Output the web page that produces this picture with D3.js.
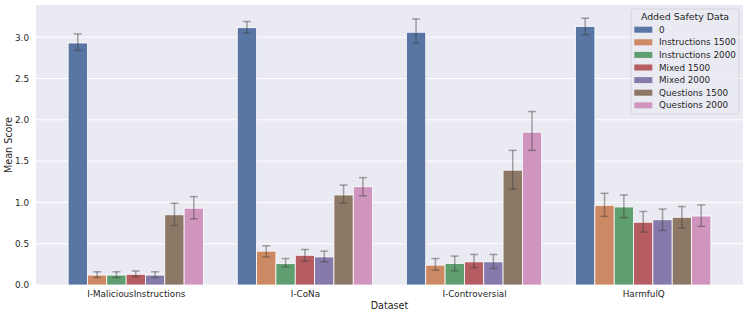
<!DOCTYPE html>
<html>
<head>
<meta charset="utf-8">
<script src="https://cdn.jsdelivr.net/npm/d3@7"></script>
<style>
  body { margin: 0; background: #fff; }
  svg { display: block; font-family: "DejaVu Sans", sans-serif; }
</style>
</head>
<body>
<svg id="chart" width="748" height="316"></svg>
<script>
const datasets = ["I-MaliciousInstructions", "I-CoNa", "I-Controversial", "HarmfulQ"];
const series = ["0", "Instructions 1500", "Instructions 2000", "Mixed 1500", "Mixed 2000", "Questions 1500", "Questions 2000"];
const colors = ["#5975a4", "#cc8963", "#5f9e6e", "#b55d60", "#857aab", "#8d7866", "#d095bf"];

// mean per series, one entry per dataset
const means = [
    [2.93, 3.115, 3.06, 3.13],
    [0.12, 0.41, 0.24, 0.965],
    [0.12, 0.26, 0.26, 0.945],
    [0.13, 0.36, 0.28, 0.76],
    [0.12, 0.34, 0.28, 0.79],
    [0.85, 1.09, 1.39, 0.82],
    [0.93, 1.19, 1.85, 0.835]
];
const errLow = [
    [2.84, 3.05, 2.93, 3.03],
    [0.09, 0.34, 0.18, 0.83],
    [0.09, 0.22, 0.17, 0.815],
    [0.10, 0.29, 0.21, 0.64],
    [0.09, 0.28, 0.20, 0.66],
    [0.72, 0.99, 1.16, 0.69],
    [0.80, 1.08, 1.63, 0.71]
];
const errHigh = [
    [3.04, 3.19, 3.22, 3.23],
    [0.16, 0.475, 0.32, 1.11],
    [0.16, 0.32, 0.35, 1.09],
    [0.17, 0.43, 0.37, 0.89],
    [0.16, 0.41, 0.37, 0.92],
    [0.99, 1.21, 1.63, 0.95],
    [1.07, 1.30, 2.10, 0.97]
];
const yTicks = [0, 0.5, 1.0, 1.5, 2.0, 2.5, 3.0];

const svg = d3.select("#chart");
const plotLeft = 36, plotRight = 743, plotTop = 5, plotBottom = 285;
const textColor = "#262626";

const x = d3.scaleLinear().domain([-0.59, datasets.length - 1 + 0.59]).range([plotLeft, plotRight]);
const y = d3.scaleLinear().domain([0, 3.39]).range([plotBottom, plotTop]);
const groupW = 0.8;
const barW = groupW / series.length;

svg.append("rect")
    .attr("x", plotLeft).attr("y", plotTop)
    .attr("width", plotRight - plotLeft).attr("height", plotBottom - plotTop)
    .attr("fill", "#eaeaf2");

// grid
svg.append("g").selectAll("line").data(yTicks).join("line")
    .attr("x1", plotLeft).attr("x2", plotRight)
    .attr("y1", d => y(d)).attr("y2", d => y(d))
    .attr("stroke", "#fff").attr("stroke-width", 1);

const yAxis = d3.axisLeft(y).tickValues(yTicks).tickFormat(d3.format(".1f")).tickSize(0).tickPadding(7);
svg.append("g").attr("transform", `translate(${plotLeft},0)`).call(yAxis)
    .call(g => g.select(".domain").remove())
    .call(g => g.selectAll("text").attr("fill", textColor).attr("font-size", 8.8).attr("font-family", "DejaVu Sans"));

const xAxis = d3.axisBottom(x).tickValues(d3.range(datasets.length)).tickFormat(i => datasets[i]).tickSize(0).tickPadding(6);
svg.append("g").attr("transform", `translate(0,${plotBottom})`).call(xAxis)
    .call(g => g.select(".domain").remove())
    .call(g => g.selectAll("text").attr("fill", textColor).attr("font-size", 8.8).attr("font-family", "DejaVu Sans"));

// bars
const cells = [];
series.forEach((s, si) => {
    datasets.forEach((d, di) => {
        cells.push({ si, di, v: means[si][di], lo: errLow[si][di], hi: errHigh[si][di] });
    });
});
const xOf = c => c.di - groupW / 2 + c.si * barW;

svg.append("g").selectAll("rect").data(cells).join("rect")
    .attr("x", c => x(xOf(c)))
    .attr("width", c => x(xOf(c) + barW) - x(xOf(c)))
    .attr("y", c => y(c.v))
    .attr("height", c => y(0) - y(c.v))
    .attr("fill", c => colors[c.si])
    .attr("stroke", "#fff").attr("stroke-width", 0.8);

// error bars
const eb = svg.append("g").attr("stroke", "#404040").attr("stroke-opacity", 0.45).attr("stroke-width", 1.5);
const cx = c => x(xOf(c) + barW / 2);
eb.selectAll("line.v").data(cells).join("line").attr("class", "v")
    .attr("x1", cx).attr("x2", cx)
    .attr("y1", c => y(c.lo)).attr("y2", c => y(c.hi));
eb.selectAll("line.t").data(cells).join("line").attr("class", "t")
    .attr("x1", c => cx(c) - 4).attr("x2", c => cx(c) + 4)
    .attr("y1", c => y(c.hi)).attr("y2", c => y(c.hi));
eb.selectAll("line.b").data(cells).join("line").attr("class", "b")
    .attr("x1", c => cx(c) - 4).attr("x2", c => cx(c) + 4)
    .attr("y1", c => y(c.lo)).attr("y2", c => y(c.lo));

// axis titles
svg.append("text")
    .attr("x", (plotLeft + plotRight) / 2).attr("y", 309)
    .attr("text-anchor", "middle").attr("fill", textColor).attr("font-size", 9.6)
    .text("Dataset");
svg.append("text")
    .attr("transform", `translate(12,${(plotTop + plotBottom) / 2}) rotate(-90)`)
    .attr("text-anchor", "middle").attr("fill", textColor).attr("font-size", 9.6)
    .text("Mean Score");

// legend
const lg = svg.append("g").attr("transform", "translate(631,9)");
lg.append("rect")
    .attr("width", 108).attr("height", 105).attr("rx", 2.5)
    .attr("fill", "#eaeaf2").attr("fill-opacity", 0.8)
    .attr("stroke", "#cfcfd6").attr("stroke-width", 0.8);
lg.append("text")
    .attr("x", 54).attr("y", 11)
    .attr("text-anchor", "middle").attr("fill", textColor).attr("font-size", 9.4)
    .text("Added Safety Data");
const rows = lg.selectAll("g.row").data(series).join("g")
    .attr("class", "row")
    .attr("transform", (d, i) => `translate(0,${20.7 + i * 12.6})`);
rows.append("rect")
    .attr("x", 3.3).attr("y", -3).attr("width", 18).attr("height", 6)
    .attr("fill", (d, i) => colors[i]);
rows.append("text")
    .attr("x", 28).attr("dy", "0.35em")
    .attr("fill", textColor).attr("font-size", 8.8)
    .text(d => d);
</script>
</body>
</html>
